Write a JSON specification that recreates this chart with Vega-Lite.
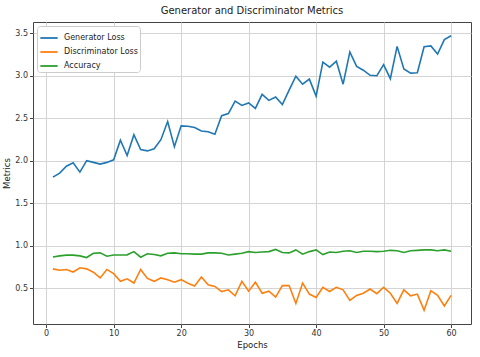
{
  "$schema": "https://vega.github.io/schema/vega-lite/v6.json",
  "width": 438,
  "height": 302,
  "autosize": {"type": "none"},
  "padding": {"left": 33, "top": 22, "right": 9, "bottom": 33},
  "background": "white",
  "title": {"text": "Generator and Discriminator Metrics", "fontSize": 10, "fontWeight": "normal", "font": "DejaVu Sans", "color": "#222", "offset": 6},
  "config": {
    "font": "DejaVu Sans",
    "view": {"stroke": "#444", "strokeWidth": 1},
    "axis": {
      "domain": false,
      "grid": true,
      "gridColor": "#d4d4d4",
      "gridWidth": 1,
      "tickColor": "#444",
      "tickSize": 3.5,
      "labelFont": "DejaVu Sans",
      "labelFontSize": 8,
      "labelColor": "#333",
      "labelPadding": 2,
      "titleFont": "DejaVu Sans",
      "titleFontSize": 8.5,
      "titleFontWeight": "normal",
      "titleColor": "#222"
    }
  },
  "data": {"values": [
    {"epoch":1,"metric":"Generator Loss","value":1.806},{"epoch":2,"metric":"Generator Loss","value":1.853},{"epoch":3,"metric":"Generator Loss","value":1.935},{"epoch":4,"metric":"Generator Loss","value":1.974},{"epoch":5,"metric":"Generator Loss","value":1.865},{"epoch":6,"metric":"Generator Loss","value":2.0},{"epoch":7,"metric":"Generator Loss","value":1.98},{"epoch":8,"metric":"Generator Loss","value":1.96},{"epoch":9,"metric":"Generator Loss","value":1.98},{"epoch":10,"metric":"Generator Loss","value":2.01},
    {"epoch":11,"metric":"Generator Loss","value":2.24},{"epoch":12,"metric":"Generator Loss","value":2.06},{"epoch":13,"metric":"Generator Loss","value":2.305},{"epoch":14,"metric":"Generator Loss","value":2.13},{"epoch":15,"metric":"Generator Loss","value":2.115},{"epoch":16,"metric":"Generator Loss","value":2.14},{"epoch":17,"metric":"Generator Loss","value":2.247},{"epoch":18,"metric":"Generator Loss","value":2.46},{"epoch":19,"metric":"Generator Loss","value":2.165},{"epoch":20,"metric":"Generator Loss","value":2.41},
    {"epoch":21,"metric":"Generator Loss","value":2.405},{"epoch":22,"metric":"Generator Loss","value":2.39},{"epoch":23,"metric":"Generator Loss","value":2.35},{"epoch":24,"metric":"Generator Loss","value":2.34},{"epoch":25,"metric":"Generator Loss","value":2.31},{"epoch":26,"metric":"Generator Loss","value":2.53},{"epoch":27,"metric":"Generator Loss","value":2.555},{"epoch":28,"metric":"Generator Loss","value":2.70},{"epoch":29,"metric":"Generator Loss","value":2.65},{"epoch":30,"metric":"Generator Loss","value":2.68},
    {"epoch":31,"metric":"Generator Loss","value":2.615},{"epoch":32,"metric":"Generator Loss","value":2.78},{"epoch":33,"metric":"Generator Loss","value":2.71},{"epoch":34,"metric":"Generator Loss","value":2.75},{"epoch":35,"metric":"Generator Loss","value":2.66},{"epoch":36,"metric":"Generator Loss","value":2.83},{"epoch":37,"metric":"Generator Loss","value":2.995},{"epoch":38,"metric":"Generator Loss","value":2.90},{"epoch":39,"metric":"Generator Loss","value":2.96},{"epoch":40,"metric":"Generator Loss","value":2.76},
    {"epoch":41,"metric":"Generator Loss","value":3.16},{"epoch":42,"metric":"Generator Loss","value":3.10},{"epoch":43,"metric":"Generator Loss","value":3.17},{"epoch":44,"metric":"Generator Loss","value":2.90},{"epoch":45,"metric":"Generator Loss","value":3.28},{"epoch":46,"metric":"Generator Loss","value":3.11},{"epoch":47,"metric":"Generator Loss","value":3.065},{"epoch":48,"metric":"Generator Loss","value":3.005},{"epoch":49,"metric":"Generator Loss","value":3.0},{"epoch":50,"metric":"Generator Loss","value":3.13},
    {"epoch":51,"metric":"Generator Loss","value":2.965},{"epoch":52,"metric":"Generator Loss","value":3.345},{"epoch":53,"metric":"Generator Loss","value":3.08},{"epoch":54,"metric":"Generator Loss","value":3.03},{"epoch":55,"metric":"Generator Loss","value":3.035},{"epoch":56,"metric":"Generator Loss","value":3.34},{"epoch":57,"metric":"Generator Loss","value":3.35},{"epoch":58,"metric":"Generator Loss","value":3.255},{"epoch":59,"metric":"Generator Loss","value":3.425},{"epoch":60,"metric":"Generator Loss","value":3.47},
    {"epoch":1,"metric":"Discriminator Loss","value":0.727},{"epoch":2,"metric":"Discriminator Loss","value":0.71},{"epoch":3,"metric":"Discriminator Loss","value":0.72},{"epoch":4,"metric":"Discriminator Loss","value":0.69},{"epoch":5,"metric":"Discriminator Loss","value":0.74},{"epoch":6,"metric":"Discriminator Loss","value":0.727},{"epoch":7,"metric":"Discriminator Loss","value":0.687},{"epoch":8,"metric":"Discriminator Loss","value":0.62},{"epoch":9,"metric":"Discriminator Loss","value":0.72},{"epoch":10,"metric":"Discriminator Loss","value":0.67},
    {"epoch":11,"metric":"Discriminator Loss","value":0.58},{"epoch":12,"metric":"Discriminator Loss","value":0.61},{"epoch":13,"metric":"Discriminator Loss","value":0.56},{"epoch":14,"metric":"Discriminator Loss","value":0.72},{"epoch":15,"metric":"Discriminator Loss","value":0.615},{"epoch":16,"metric":"Discriminator Loss","value":0.58},{"epoch":17,"metric":"Discriminator Loss","value":0.62},{"epoch":18,"metric":"Discriminator Loss","value":0.60},{"epoch":19,"metric":"Discriminator Loss","value":0.57},{"epoch":20,"metric":"Discriminator Loss","value":0.60},
    {"epoch":21,"metric":"Discriminator Loss","value":0.557},{"epoch":22,"metric":"Discriminator Loss","value":0.526},{"epoch":23,"metric":"Discriminator Loss","value":0.63},{"epoch":24,"metric":"Discriminator Loss","value":0.54},{"epoch":25,"metric":"Discriminator Loss","value":0.52},{"epoch":26,"metric":"Discriminator Loss","value":0.46},{"epoch":27,"metric":"Discriminator Loss","value":0.48},{"epoch":28,"metric":"Discriminator Loss","value":0.41},{"epoch":29,"metric":"Discriminator Loss","value":0.58},{"epoch":30,"metric":"Discriminator Loss","value":0.465},
    {"epoch":31,"metric":"Discriminator Loss","value":0.57},{"epoch":32,"metric":"Discriminator Loss","value":0.44},{"epoch":33,"metric":"Discriminator Loss","value":0.465},{"epoch":34,"metric":"Discriminator Loss","value":0.395},{"epoch":35,"metric":"Discriminator Loss","value":0.53},{"epoch":36,"metric":"Discriminator Loss","value":0.53},{"epoch":37,"metric":"Discriminator Loss","value":0.32},{"epoch":38,"metric":"Discriminator Loss","value":0.56},{"epoch":39,"metric":"Discriminator Loss","value":0.43},{"epoch":40,"metric":"Discriminator Loss","value":0.39},
    {"epoch":41,"metric":"Discriminator Loss","value":0.51},{"epoch":42,"metric":"Discriminator Loss","value":0.46},{"epoch":43,"metric":"Discriminator Loss","value":0.51},{"epoch":44,"metric":"Discriminator Loss","value":0.48},{"epoch":45,"metric":"Discriminator Loss","value":0.355},{"epoch":46,"metric":"Discriminator Loss","value":0.415},{"epoch":47,"metric":"Discriminator Loss","value":0.44},{"epoch":48,"metric":"Discriminator Loss","value":0.49},{"epoch":49,"metric":"Discriminator Loss","value":0.435},{"epoch":50,"metric":"Discriminator Loss","value":0.51},
    {"epoch":51,"metric":"Discriminator Loss","value":0.44},{"epoch":52,"metric":"Discriminator Loss","value":0.32},{"epoch":53,"metric":"Discriminator Loss","value":0.48},{"epoch":54,"metric":"Discriminator Loss","value":0.41},{"epoch":55,"metric":"Discriminator Loss","value":0.43},{"epoch":56,"metric":"Discriminator Loss","value":0.24},{"epoch":57,"metric":"Discriminator Loss","value":0.47},{"epoch":58,"metric":"Discriminator Loss","value":0.415},{"epoch":59,"metric":"Discriminator Loss","value":0.29},{"epoch":60,"metric":"Discriminator Loss","value":0.415},
    {"epoch":1,"metric":"Accuracy","value":0.867},{"epoch":2,"metric":"Accuracy","value":0.88},{"epoch":3,"metric":"Accuracy","value":0.888},{"epoch":4,"metric":"Accuracy","value":0.888},{"epoch":5,"metric":"Accuracy","value":0.88},{"epoch":6,"metric":"Accuracy","value":0.86},{"epoch":7,"metric":"Accuracy","value":0.91},{"epoch":8,"metric":"Accuracy","value":0.915},{"epoch":9,"metric":"Accuracy","value":0.875},{"epoch":10,"metric":"Accuracy","value":0.89},
    {"epoch":11,"metric":"Accuracy","value":0.89},{"epoch":12,"metric":"Accuracy","value":0.892},{"epoch":13,"metric":"Accuracy","value":0.93},{"epoch":14,"metric":"Accuracy","value":0.864},{"epoch":15,"metric":"Accuracy","value":0.905},{"epoch":16,"metric":"Accuracy","value":0.895},{"epoch":17,"metric":"Accuracy","value":0.88},{"epoch":18,"metric":"Accuracy","value":0.91},{"epoch":19,"metric":"Accuracy","value":0.915},{"epoch":20,"metric":"Accuracy","value":0.905},
    {"epoch":21,"metric":"Accuracy","value":0.905},{"epoch":22,"metric":"Accuracy","value":0.90},{"epoch":23,"metric":"Accuracy","value":0.90},{"epoch":24,"metric":"Accuracy","value":0.915},{"epoch":25,"metric":"Accuracy","value":0.915},{"epoch":26,"metric":"Accuracy","value":0.91},{"epoch":27,"metric":"Accuracy","value":0.89},{"epoch":28,"metric":"Accuracy","value":0.90},{"epoch":29,"metric":"Accuracy","value":0.91},{"epoch":30,"metric":"Accuracy","value":0.93},
    {"epoch":31,"metric":"Accuracy","value":0.92},{"epoch":32,"metric":"Accuracy","value":0.925},{"epoch":33,"metric":"Accuracy","value":0.93},{"epoch":34,"metric":"Accuracy","value":0.955},{"epoch":35,"metric":"Accuracy","value":0.92},{"epoch":36,"metric":"Accuracy","value":0.915},{"epoch":37,"metric":"Accuracy","value":0.95},{"epoch":38,"metric":"Accuracy","value":0.90},{"epoch":39,"metric":"Accuracy","value":0.93},{"epoch":40,"metric":"Accuracy","value":0.95},
    {"epoch":41,"metric":"Accuracy","value":0.895},{"epoch":42,"metric":"Accuracy","value":0.925},{"epoch":43,"metric":"Accuracy","value":0.92},{"epoch":44,"metric":"Accuracy","value":0.935},{"epoch":45,"metric":"Accuracy","value":0.94},{"epoch":46,"metric":"Accuracy","value":0.92},{"epoch":47,"metric":"Accuracy","value":0.935},{"epoch":48,"metric":"Accuracy","value":0.935},{"epoch":49,"metric":"Accuracy","value":0.93},{"epoch":50,"metric":"Accuracy","value":0.935},
    {"epoch":51,"metric":"Accuracy","value":0.945},{"epoch":52,"metric":"Accuracy","value":0.94},{"epoch":53,"metric":"Accuracy","value":0.92},{"epoch":54,"metric":"Accuracy","value":0.94},{"epoch":55,"metric":"Accuracy","value":0.945},{"epoch":56,"metric":"Accuracy","value":0.95},{"epoch":57,"metric":"Accuracy","value":0.95},{"epoch":58,"metric":"Accuracy","value":0.94},{"epoch":59,"metric":"Accuracy","value":0.95},{"epoch":60,"metric":"Accuracy","value":0.935}
  ]},
  "mark": {"type": "line", "strokeWidth": 1.6, "clip": true},
  "encoding": {
    "x": {
      "field": "epoch", "type": "quantitative", "title": "Epochs",
      "scale": {"domain": [-1.95, 62.95], "nice": false, "zero": false},
      "axis": {"values": [0, 10, 20, 30, 40, 50, 60], "format": "d", "titlePadding": 3}
    },
    "y": {
      "field": "value", "type": "quantitative", "title": "Metrics",
      "scale": {"domain": [0.078, 3.632], "nice": false, "zero": false},
      "axis": {"values": [0.5, 1.0, 1.5, 2.0, 2.5, 3.0, 3.5], "format": ".1f", "titlePadding": 3}
    },
    "color": {
      "field": "metric", "type": "nominal",
      "scale": {"domain": ["Generator Loss", "Discriminator Loss", "Accuracy"], "range": ["#1f77b4", "#ff7f0e", "#2ca02c"]},
      "legend": {
        "title": null,
        "orient": "top-left",
        "offset": 4,
        "padding": 2,
        "fillColor": "white",
        "strokeColor": "#cccccc",
        "cornerRadius": 3,
        "symbolType": "stroke",
        "symbolSize": 300,
        "symbolStrokeWidth": 1.8,
        "labelFontSize": 8,
        "labelFont": "DejaVu Sans",
        "labelColor": "#222",
        "labelOffset": 5,
        "rowPadding": -1
      }
    }
  }
}
